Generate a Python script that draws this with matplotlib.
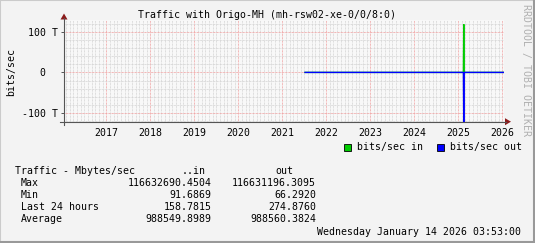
from datetime import datetime
import matplotlib
matplotlib.use("Agg")
import matplotlib.pyplot as plt
import matplotlib.dates as mdates
from matplotlib.patches import Rectangle, Polygon
from matplotlib.lines import Line2D

# data (bits/sec); out is drawn mirrored below zero
dates = [datetime(2021, 7, 8), datetime(2025, 2, 12), datetime(2025, 2, 15),
         datetime(2025, 2, 18), datetime(2026, 1, 14, 3, 53)]
bits_in = [0, 0, 1.19e14, 0, 0]
bits_out = [0, 0, 1.25e14, 0, 0]

years = list(range(2017, 2027))
stat_rows = ["Max", "Min", "Last 24 hours", "Average"]
stat_in = ["116632690.4504", "91.6869", "158.7815", "988549.8989"]
stat_out = ["116631196.3095", "66.2920", "274.8760", "988560.3824"]

W, H = 535, 243
BG = "#f3f3f3"
FONT = "DejaVu Sans Mono"
FS = 7.1

def fx(px):
    return px / W

def fy(py):
    return 1 - py / H

fig = plt.figure(figsize=(W / 100, H / 100), dpi=100, facecolor=BG)

# frame shading
fig.add_artist(Rectangle((0, 0), 1, 1, transform=fig.transFigure, fill=False,
                         edgecolor="#cbcbcb", lw=1.5))
fig.add_artist(Line2D([fx(0), fx(W)], [fy(242), fy(242)], transform=fig.transFigure,
                      color="#999999", lw=1.5))
fig.add_artist(Line2D([fx(534), fx(534)], [fy(0), fy(H)], transform=fig.transFigure,
                      color="#999999", lw=1.5))

left, right, top, bottom = 64, 503.9, 20, 121.7
ax = fig.add_axes([fx(left), fy(bottom), fx(right - left), (bottom - top) / H])
ax.set_facecolor("#f8f8f8")

ax.plot(dates, bits_in, color="#00cc00", lw=1.0, solid_joinstyle="miter")
ax.plot(dates, [-v for v in bits_out], color="#0000ff", lw=1.0, solid_joinstyle="miter")

ax.set_xlim(datetime(2016, 1, 14, 3, 53), datetime(2026, 1, 14, 3, 53))
ax.set_ylim(-121.7e12, 129.4e12)

ax.xaxis.set_major_locator(mdates.YearLocator())
ax.xaxis.set_minor_locator(mdates.MonthLocator())
ax.xaxis.set_major_formatter(mdates.DateFormatter("%Y"))
ax.set_yticks([-100e12, 0, 100e12])
ax.set_yticklabels(["-100 T", "0  ", "100 T"])
ax.set_yticks([v * 1e12 for v in range(-120, 130, 20)], minor=True)

dots = (0, (0.72, 0.72))
ax.grid(which="minor", color="#d4d4d4", lw=0.72, linestyle=dots)
ax.grid(which="major", color="#f0a0a0", lw=0.72, linestyle=dots)
ax.set_axisbelow(True)

for s in ax.spines.values():
    s.set_visible(False)
ax.tick_params(axis="x", which="both", length=0, pad=4.5, labelsize=FS)
ax.tick_params(axis="y", which="major", length=2, width=0.7, color="#555555",
               pad=2.5, labelsize=FS)
ax.tick_params(axis="y", which="minor", length=0)
for lab in ax.get_xticklabels() + ax.get_yticklabels():
    lab.set_fontfamily(FONT)

# axes with arrows
fig.add_artist(Line2D([fx(60), fx(506)], [fy(121.7), fy(121.7)],
                      transform=fig.transFigure, color="#555555", lw=0.8))
fig.add_artist(Line2D([fx(64), fx(64)], [fy(125), fy(18)],
                      transform=fig.transFigure, color="#555555", lw=0.8))
fig.add_artist(Polygon([(fx(60.5), fy(19.5)), (fx(67.5), fy(19.5)), (fx(64), fy(13.5))],
                       transform=fig.transFigure, color="#8b1a1a", lw=0))
fig.add_artist(Polygon([(fx(505), fy(118.2)), (fx(505), fy(125.2)), (fx(511), fy(121.7))],
                       transform=fig.transFigure, color="#8b1a1a", lw=0))

txt = dict(fontfamily=FONT, fontsize=FS, color="black")
fig.text(fx(266.5), fy(15), "Traffic with Origo-MH (mh-rsw02-xe-0/0/8:0)",
         ha="center", va="center", **txt)
fig.text(fx(11), fy(72.5), "bits/sec", rotation=90, ha="center", va="center", **txt)
fig.text(fx(525.5), fy(4), "RRDTOOL / TOBI OETIKER", rotation=270, ha="center",
         va="top", fontfamily=FONT, fontsize=FS, color="#b0b0b0")

# legend
fig.add_artist(Rectangle((fx(344), fy(150.5)), fx(6.5), 6.5 / H, transform=fig.transFigure,
                         facecolor="#00cc00", edgecolor="black", lw=0.6))
fig.text(fx(357), fy(147), "bits/sec in", ha="left", va="center", **txt)
fig.add_artist(Rectangle((fx(437), fy(150.5)), fx(6.5), 6.5 / H, transform=fig.transFigure,
                         facecolor="#0000ff", edgecolor="black", lw=0.6))
fig.text(fx(450), fy(147), "bits/sec out", ha="left", va="center", **txt)

# statistics
fig.text(fx(15), fy(171), "Traffic - Mbytes/sec", ha="left", va="center", **txt)
fig.text(fx(206), fy(171), "..in", ha="right", va="center", **txt)
fig.text(fx(293), fy(171), "out", ha="right", va="center", **txt)
for i, name in enumerate(stat_rows):
    y = 183 + 12 * i
    fig.text(fx(21), fy(y), name, ha="left", va="center", **txt)
    fig.text(fx(211.7), fy(y), stat_in[i], ha="right", va="center", **txt)
    fig.text(fx(316), fy(y), stat_out[i], ha="right", va="center", **txt)
fig.text(fx(521), fy(231.5), "Wednesday January 14 2026 03:53:00",
         ha="right", va="center", **txt)

fig.savefig("out.png", dpi=100, facecolor=BG)
